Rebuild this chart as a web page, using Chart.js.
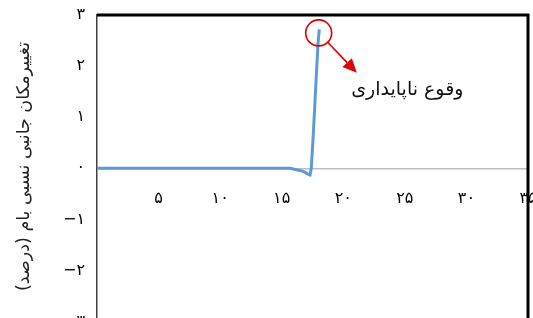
<!DOCTYPE html>
<html lang="fa">
<head>
    <meta charset="UTF-8">
    <title>Chart</title>
    <script src="https://cdn.jsdelivr.net/npm/chart.js@4.4.0/dist/chart.umd.min.js"></script>
    <style>
        html, body {
            margin: 0;
            padding: 0;
            overflow: hidden;
            background: #fff;
        }
        .chart_box {
            width: 533px;
            height: 318px;
        }
    </style>
</head>
<body>
<div class="chart_box">
    <canvas id="myChart" width="533" height="318"></canvas>
</div>
<script>
    // داده ها
    const xValues = [0, 2.7, 5, 10, 15, 15.7, 16.2, 16.75, 17.1, 17.3, 17.4, 17.55, 17.7, 17.85, 17.95, 18.05];
    const yValues = [0, 0, 0, 0, 0, 0, -0.03, -0.06, -0.11, -0.13, 0, 0.6, 1.3, 2.0, 2.45, 2.72];
    const xTicks = [0, 5, 10, 15, 20, 25, 30, 35];
    const yTicks = [-3, -2, -1, 0, 1, 2, 3];
    const yMin = -2.93;   // پایین تصویر بریده شده
    const yMax = 3;
    const yTitle = 'تغییرمکان جانبی نسبی بام (درصد)';
    const noteText = 'وقوع ناپایداری';
    const peak = { x: 18.0, y: 2.65 };      // مرکز دایره
    const arrowTip = { x: 21.1, y: 1.87 };  // نوک فلش
    const notePos = { x: 25.2, y: 1.53 };   // محل متن

    const faDigits = '۰۱۲۳۴۵۶۷۸۹';
    function fa(n) {
        const s = String(Math.abs(n)).replace(/[0-9]/g, d => faDigits[d]);
        return n < 0 ? '−' + s : s;
    }

    Chart.defaults.font.family = "'DejaVu Sans', sans-serif";
    Chart.defaults.color = '#000';

    // قاب بالا و راست + دایره و فلش قرمز
    const framePlugin = {
        id: 'frame',
        afterDraw(chart) {
            const {ctx, chartArea: a, scales: {x, y}} = chart;
            ctx.save();
            ctx.strokeStyle = '#000';
            ctx.lineWidth = 3;
            ctx.beginPath();
            ctx.moveTo(a.left, a.top);
            ctx.lineTo(a.right, a.top);
            ctx.lineTo(a.right, a.bottom + 5);
            ctx.stroke();

            const cx = x.getPixelForValue(peak.x), cy = y.getPixelForValue(peak.y);
            const r = 13;
            ctx.strokeStyle = '#e00000';
            ctx.lineWidth = 1.6;
            ctx.beginPath();
            ctx.arc(cx, cy, r, 0, Math.PI * 2);
            ctx.stroke();

            const tx = x.getPixelForValue(arrowTip.x), ty = y.getPixelForValue(arrowTip.y);
            const ang = Math.atan2(ty - cy, tx - cx);
            const sx = cx + Math.cos(ang) * r, sy = cy + Math.sin(ang) * r;
            const hl = 14, hw = 6.5;
            const bx = tx - Math.cos(ang) * hl, by = ty - Math.sin(ang) * hl;
            ctx.beginPath();
            ctx.moveTo(sx, sy);
            ctx.lineTo(bx, by);
            ctx.stroke();
            ctx.fillStyle = '#e00000';
            ctx.beginPath();
            ctx.moveTo(tx, ty);
            ctx.lineTo(bx - Math.sin(ang) * hw, by + Math.cos(ang) * hw);
            ctx.lineTo(bx + Math.sin(ang) * hw, by - Math.cos(ang) * hw);
            ctx.closePath();
            ctx.fill();

            ctx.fillStyle = '#111';
            ctx.font = "19px 'DejaVu Sans', sans-serif";
            ctx.textAlign = 'center';
            ctx.textBaseline = 'middle';
            ctx.fillText(noteText, x.getPixelForValue(notePos.x), y.getPixelForValue(notePos.y));
            ctx.restore();
        }
    };

    const ctx1 = document.getElementById('myChart').getContext('2d');
    const myChart = new Chart(ctx1, {
        type: 'scatter',
        data: {
            datasets: [{
                data: xValues.map((v, i) => ({x: v, y: yValues[i]})),
                showLine: true,
                borderColor: '#5b9bd5',
                borderWidth: 3,
                pointRadius: 0,
                tension: 0
            }]
        },
        options: {
            responsive: false,
            animation: false,
            layout: {
                padding: {top: 15, left: 0, right: 5, bottom: 0}
            },
            plugins: {
                legend: {display: false},
                tooltip: {enabled: false}
            },
            scales: {
                x: {
                    type: 'linear',
                    min: 0,
                    max: 35,
                    position: {y: 0},
                    afterBuildTicks: s => { s.ticks = xTicks.map(v => ({value: v})); },
                    afterFit: s => { s.paddingLeft = 0; s.paddingRight = 0; },
                    grid: {display: false, drawTicks: false},
                    border: {color: '#bfbfbf', width: 1.5},
                    ticks: {
                        padding: 21,
                        maxRotation: 0,
                        autoSkip: false,
                        font: {size: 16},
                        callback: v => v === 0 ? '' : fa(v)
                    }
                },
                y: {
                    type: 'linear',
                    min: yMin,
                    max: yMax,
                    afterBuildTicks: s => { s.ticks = yTicks.map(v => ({value: v})); },
                    afterFit: s => { s.width = 97; s.paddingTop = 0; s.paddingBottom = 0; },
                    grid: {display: false, drawTicks: false},
                    border: {color: '#404040', width: 1.5},
                    ticks: {
                        padding: 12,
                        font: {size: 16},
                        callback: v => fa(v)
                    },
                    title: {
                        display: true,
                        text: yTitle,
                        color: '#222',
                        font: {size: 17.5},
                        padding: {top: 14, bottom: 0}
                    }
                }
            }
        },
        plugins: [framePlugin]
    });
</script>
</body>
</html>
